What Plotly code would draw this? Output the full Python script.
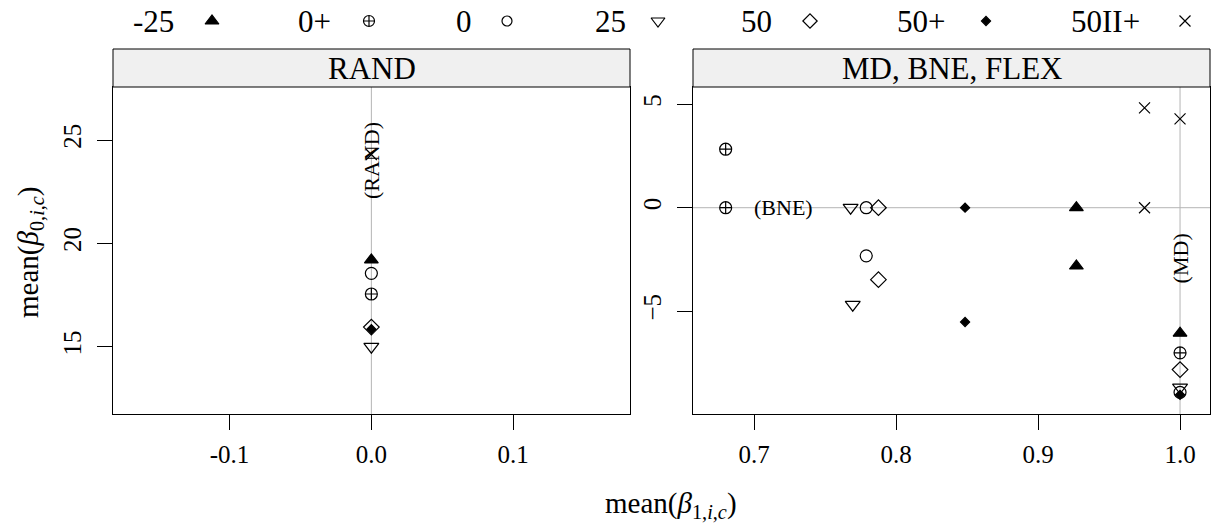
import plotly.graph_objects as go

W, H = 1211, 530
FONT = "Liberation Serif"

# ---------------- data ----------------
series = ["-25", "0+", "0", "25", "50", "50+", "50II+"]
symbols = ["triangle-up", "circle-cross-open", "circle-open", "triangle-down-open",
           "diamond-open", "diamond", "x-thin-open"]
msizes = [12, 12, 12, 13, 12, 7, 11]
leg_sizes = [12, 11, 10, 12, 11, 7, 11]

# RAND panel (one point per series)
rand_x = [0.0, 0.0, 0.0, 0.0, 0.0, 0.0, 0.0]
rand_y = [19.2, 17.55, 18.55, 15.0, 15.95, 15.85, 24.3]

# MD, BNE, FLEX panel (three points per series)
flex_x_m25 = [0.927, 0.927, 1.0]
flex_y_m25 = [0.0, -2.82, -6.07]
flex_x_0p = [0.68, 0.68, 1.0]
flex_y_0p = [2.83, 0.0, -7.02]
flex_x_0 = [0.779, 0.779, 1.0]
flex_y_0 = [0.0, -2.33, -8.93]
flex_x_25 = [0.768, 0.7695, 1.0]
flex_y_25 = [0.0, -4.69, -8.69]
flex_x_50 = [0.7876, 0.7876, 1.0]
flex_y_50 = [0.0, -3.48, -7.83]
flex_x_50p = [0.8486, 0.8486, 1.0]
flex_y_50p = [0.0, -5.53, -9.05]
flex_x_50IIp = [0.975, 0.975, 1.0]
flex_y_50IIp = [4.83, 0.0, 4.30]

flex_x = [flex_x_m25, flex_x_0p, flex_x_0, flex_x_25, flex_x_50, flex_x_50p, flex_x_50IIp]
flex_y = [flex_y_m25, flex_y_0p, flex_y_0, flex_y_25, flex_y_50, flex_y_50p, flex_y_50IIp]

# reference lines
rand_vlines = [0.0]
flex_vlines = [1.0]
flex_hlines = [0.0]

# reference labels
rand_label = ("(RAND)", 0.0, 24.0)
bne_label = ("(BNE)", 0.7205, 0.0)
md_label = ("(MD)", 1.0, -2.45)

# ticks
x1_ticks = [-0.1, 0.0, 0.1]
x1_ticktext = ["-0.1", "0.0", "0.1"]
x2_ticks = [0.7, 0.8, 0.9, 1.0]
x2_ticktext = ["0.7", "0.8", "0.9", "1.0"]
y1_ticks = [15, 20, 25]
y2_ticks = [-5, 0, 5]

# ---------------- layout constants (pixels) ----------------
P1 = (113, 630)
P2 = (693, 1210)
PT, PB = 87, 414
STRIP_TOP = 49

def px(x):
    return x / W

def py(y):
    return 1 - y / H

fig = go.Figure()

for i, name in enumerate(series):
    fig.add_trace(go.Scatter(
        x=[rand_x[i]], y=[rand_y[i]], mode="markers", xaxis="x", yaxis="y",
        marker=dict(symbol=symbols[i], size=msizes[i], color="black",
                    line=dict(color="black", width=1.2)),
        showlegend=False, cliponaxis=False))
for i, name in enumerate(series):
    fig.add_trace(go.Scatter(
        x=flex_x[i], y=flex_y[i], mode="markers", xaxis="x2", yaxis="y2",
        marker=dict(symbol=symbols[i], size=msizes[i], color="black",
                    line=dict(color="black", width=1.2)),
        showlegend=False, cliponaxis=False))

# legend markers on an overlay pixel axis
leg_text_x = [153, 314, 464, 610, 756, 921, 1105]
leg_mark_x = [212, 369, 507, 658, 810, 986, 1185]
LEG_Y = 21
for i, name in enumerate(series):
    fig.add_trace(go.Scatter(
        x=[leg_mark_x[i]], y=[LEG_Y], mode="markers", xaxis="x3", yaxis="y3",
        marker=dict(symbol=symbols[i], size=leg_sizes[i], color="black",
                    line=dict(color="black", width=1.2)),
        showlegend=False, cliponaxis=False, hoverinfo="skip"))

shapes = []
for v in rand_vlines:
    shapes.append(dict(type="line", xref="x", yref="y domain", x0=v, x1=v, y0=0, y1=1,
                       line=dict(color="#b4b4b4", width=1), layer="below"))
for v in flex_vlines:
    shapes.append(dict(type="line", xref="x2", yref="y2 domain", x0=v, x1=v, y0=0, y1=1,
                       line=dict(color="#b4b4b4", width=1), layer="below"))
for h in flex_hlines:
    shapes.append(dict(type="line", xref="x2 domain", yref="y2", x0=0, x1=1, y0=h, y1=h,
                       line=dict(color="#b4b4b4", width=1), layer="below"))
# strips
for (a, b) in (P1, P2):
    shapes.append(dict(type="rect", xref="paper", yref="paper", x0=px(a), x1=px(b),
                       y0=py(PT), y1=py(STRIP_TOP), fillcolor="#f0f0f0",
                       line=dict(color="black", width=1)))

C = dict(xanchor="center", yanchor="middle", showarrow=False)
ann = []
ann.append(dict(text="RAND", x=px((P1[0] + P1[1]) / 2), y=py((PT + STRIP_TOP) / 2 + 1),
                xref="paper", yref="paper", **C,
                font=dict(family=FONT, size=31, color="black")))
ann.append(dict(text="MD, BNE, FLEX", x=px((P2[0] + P2[1]) / 2), y=py((PT + STRIP_TOP) / 2 + 1),
                xref="paper", yref="paper", **C,
                font=dict(family=FONT, size=31, color="black")))
ann.append(dict(text=rand_label[0], x=rand_label[1], y=rand_label[2], xref="x", yref="y",
                **C, textangle=-90, font=dict(family=FONT, size=22, color="black")))
ann.append(dict(text=bne_label[0], x=bne_label[1], y=bne_label[2], xref="x2", yref="y2",
                **C, font=dict(family=FONT, size=22, color="black")))
ann.append(dict(text=md_label[0], x=md_label[1], y=md_label[2], xref="x2", yref="y2",
                **C, textangle=-90, font=dict(family=FONT, size=22, color="black")))
for i, name in enumerate(series):
    ann.append(dict(text=name, x=px(leg_text_x[i]), y=py(LEG_Y + 1), xref="paper", yref="paper",
                    **C, font=dict(family=FONT, size=31, color="black")))
ann.append(dict(text="mean(<i>β</i><sub>1,<i>i</i>,<i>c</i></sub>)", x=px(671), y=py(505),
                xref="paper", yref="paper", **C,
                font=dict(family=FONT, size=29, color="black")))
ann.append(dict(text="mean(<i>β</i><sub>0,<i>i</i>,<i>c</i></sub>)", x=px(30), y=py(252),
                xref="paper", yref="paper", **C, textangle=-90,
                font=dict(family=FONT, size=29, color="black")))

axis_common = dict(showline=True, mirror=True, linecolor="black", linewidth=1,
                   showgrid=False, zeroline=False, ticks="outside", ticklen=15,
                   tickwidth=1, tickcolor="black",
                   tickfont=dict(family=FONT, size=25, color="black"))

fig.update_layout(
    width=W, height=H, autosize=False,
    margin=dict(l=0, r=0, t=0, b=0),
    paper_bgcolor="white", plot_bgcolor="rgba(0,0,0,0)",
    showlegend=False,
    xaxis=dict(domain=[px(P1[0]), px(P1[1])], range=[-0.1822, 0.1824], anchor="y",
               tickvals=x1_ticks, ticktext=x1_ticktext, ticklabelstandoff=3, **axis_common),
    yaxis=dict(domain=[py(PB), py(PT)], range=[11.744, 27.564], anchor="x",
               tickvals=y1_ticks, tickangle=-90, ticklabelstandoff=6, **axis_common),
    xaxis2=dict(domain=[px(P2[0]), px(P2[1])], range=[0.657, 1.0211], anchor="y2",
                tickvals=x2_ticks, ticktext=x2_ticktext, ticklabelstandoff=3, **axis_common),
    yaxis2=dict(domain=[py(PB), py(PT)], range=[-9.98, 5.84], anchor="x2",
                tickvals=y2_ticks, tickangle=-90, ticklabelstandoff=6, **axis_common),
    xaxis3=dict(domain=[0, 1], range=[0, W], anchor="y3", visible=False),
    yaxis3=dict(domain=[0, 1], range=[H, 0], anchor="x3", visible=False),
    shapes=shapes, annotations=ann,
)

fig.write_html("out.html")
